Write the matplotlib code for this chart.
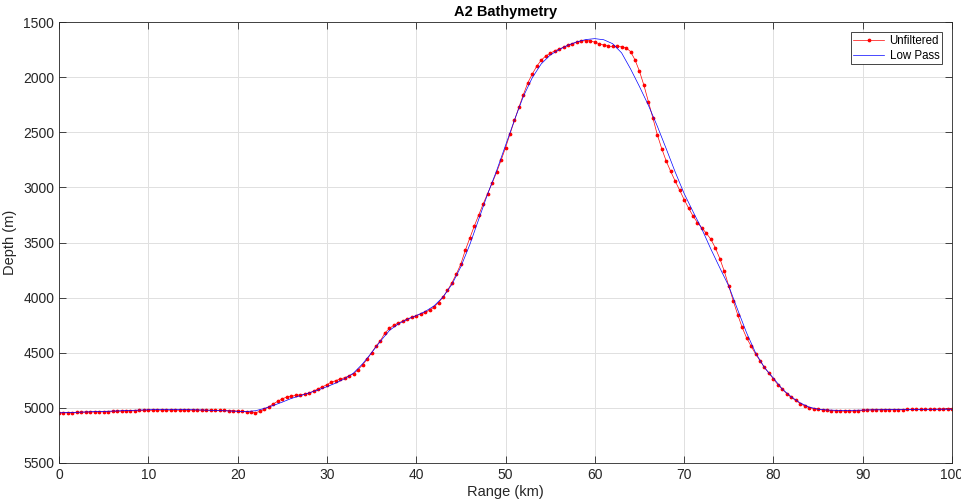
import numpy as np
import matplotlib.pyplot as plt

plt.rcParams['font.family'] = ['Liberation Sans', 'DejaVu Sans']

# along-track range of the sounding samples (0.5 km spacing)
range_km = np.arange(0, 100.5, 0.5)

depth_raw = [
    5045, 5044, 5043, 5042, 5041, 5040, 5039, 5038, 5037, 5036,
    5035, 5034, 5032, 5031, 5029, 5027, 5026, 5024, 5023, 5022,
    5021, 5021, 5020, 5020, 5020, 5020, 5019, 5019, 5019, 5019,
    5020, 5020, 5020, 5021, 5021, 5022, 5022, 5023, 5024, 5026,
    5029, 5031, 5034, 5039, 5044, 5032, 5012, 4990, 4964, 4940,
    4918, 4902, 4894, 4887, 4882, 4876, 4865, 4849, 4828, 4810,
    4788, 4767, 4752, 4738, 4726, 4709, 4690, 4652, 4610, 4560,
    4500, 4440, 4390, 4320, 4280, 4250, 4230, 4213, 4192, 4180,
    4163, 4150, 4133, 4115, 4085, 4045, 3995, 3935, 3865, 3785,
    3695, 3570, 3460, 3352, 3250, 3150, 3056, 2962, 2864, 2756,
    2641, 2516, 2393, 2273, 2159, 2051, 1972, 1901, 1846, 1809,
    1784, 1762, 1746, 1728, 1712, 1696, 1683, 1671, 1668, 1671,
    1683, 1697, 1709, 1719, 1722, 1722, 1725, 1734, 1768, 1843,
    1946, 2074, 2222, 2370, 2522, 2650, 2762, 2855, 2943, 3025,
    3110, 3187, 3260, 3320, 3369, 3417, 3471, 3549, 3646, 3760,
    3893, 4028, 4154, 4270, 4365, 4440, 4510, 4573, 4633, 4686,
    4738, 4789, 4830, 4872, 4905, 4932, 4961, 4982, 4997, 5006,
    5012, 5018, 5021, 5024, 5026, 5028, 5029, 5029, 5028, 5026,
    5022, 5019, 5017, 5016, 5016, 5015, 5015, 5015, 5015, 5015,
    5014, 5014, 5014, 5013, 5013, 5012, 5012, 5011, 5011, 5010,
    5010,
]

# low pass filtered profile, 1 km spacing
range_lp = np.arange(0, 101, 1)
depth_lp = [
    5045, 5043, 5040, 5037, 5034, 5032, 5029, 5026, 5023, 5020,
    5017, 5015, 5014, 5014, 5015, 5017, 5019, 5022, 5025, 5028,
    5031, 5033, 5026, 5005, 4978, 4948, 4915, 4890, 4864, 4838,
    4808, 4775, 4735, 4683, 4600, 4500, 4395, 4298, 4238, 4197,
    4163, 4126, 4075, 3995, 3880, 3720, 3520, 3290, 3060, 2850,
    2620, 2390, 2175, 2005, 1880, 1800, 1750, 1710, 1680, 1659,
    1651, 1661, 1697, 1780, 1925, 2085, 2255, 2445, 2650, 2860,
    3055, 3220, 3380, 3560, 3730, 3895, 4110, 4320, 4500, 4635,
    4730, 4830, 4900, 4955, 4993, 5012, 5019, 5022, 5023, 5022,
    5020, 5018, 5017, 5016, 5015, 5014, 5014, 5013, 5013, 5012,
    5012,
]

fig = plt.figure(figsize=(9.61, 5.03), dpi=100)
ax = fig.add_axes([59 / 961, 40 / 503, 893 / 961, 441 / 503])

ax.plot(range_km, depth_raw, '.-', color='#ff0000', lw=0.5, ms=3.4,
        label='Unfiltered')
ax.plot(range_lp, depth_lp, '-', color='#0000ff', lw=0.5, label='Low Pass')

ax.set_xlim(0, 100)
ax.set_ylim(5500, 1500)
ax.set_xticks(np.arange(0, 101, 10))
ax.set_yticks(np.arange(1500, 5501, 500))

ax.grid(True, color='#e0e0e0', lw=0.7)
ax.set_axisbelow(True)
for s in ax.spines.values():
    s.set_color('#262626')
    s.set_linewidth(0.6)
ax.tick_params(direction='in', top=True, right=True, length=5, width=0.6,
               colors='#262626', labelsize=10)

ax.set_xlabel('Range (km)', fontsize=10.5, color='#262626', labelpad=2)
ax.set_ylabel('Depth (m)', fontsize=10.5, color='#262626', labelpad=4)
ax.set_title('A2 Bathymetry', fontsize=10.5, fontweight='bold', pad=4)

leg = ax.legend(loc='upper right', fontsize=8.3, fancybox=False, framealpha=1,
                edgecolor='#262626', handlelength=2.7, borderaxespad=0.9,
                handletextpad=0.45, borderpad=0.2, labelspacing=0.25)
leg.get_frame().set_linewidth(0.6)

fig.savefig('out.png', dpi=100)
